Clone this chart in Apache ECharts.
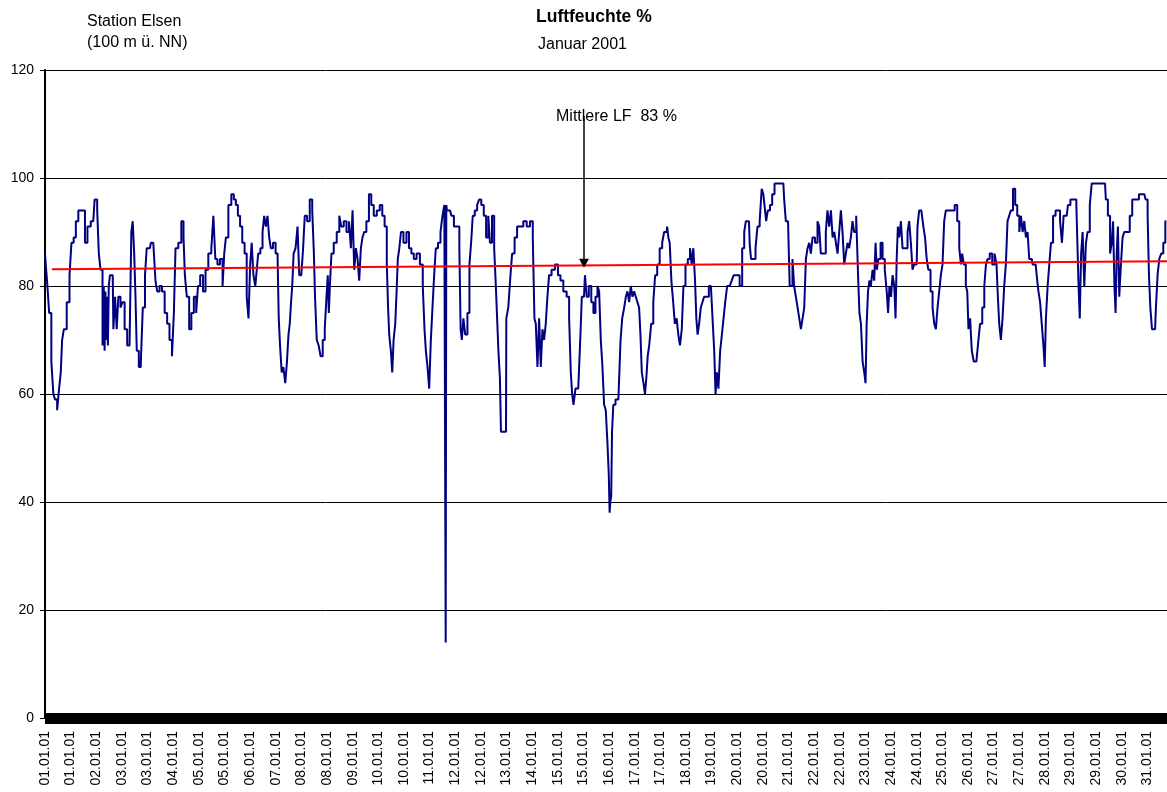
<!DOCTYPE html>
<html>
<head>
<meta charset="utf-8">
<title>Luftfeuchte Januar 2001</title>
<script src="https://cdn.jsdelivr.net/npm/echarts@6/dist/echarts.min.js"></script>
<style>
  html, body { margin: 0; padding: 0; background: #fff; }
  #chart { width: 1167px; height: 792px; }
</style>
</head>
<body>
<div id="chart"></div>
<script>
// x = Stunde seit 01.01.2001 00:00, y = rel. Luftfeuchte in %
const rhData = [
  [0, 86], [1, 84], [2.2, 80], [3.3, 75], [5.1, 66], [6, 60], [7.3, 59], [8.8, 57], [9.9, 61], [11, 64],
  [11.7, 70], [13.3, 72], [15.5, 77], [17, 82], [18.1, 88], [19.9, 89], [21, 92], [23.2, 94], [25.4, 94], [27.6, 88],
  [28.7, 91], [32, 92], [33.8, 96], [35.4, 94], [36, 86], [37.6, 83], [38.7, 69], [39.2, 80], [39.8, 68], [40.3, 79],
  [40.9, 70], [41.4, 78], [42, 69], [42.6, 80], [43.5, 82], [44.9, 82], [45.8, 72], [47.1, 78], [48, 72], [49.3, 78],
  [50.8, 76], [51.9, 77], [53.7, 72], [55.3, 69], [56.8, 69], [57.7, 90], [58.6, 92], [59.7, 86], [60.3, 78], [61.4, 68],
  [63, 65], [64.1, 66], [65.6, 76], [67, 82], [67.9, 87], [69.6, 87], [70.7, 88], [72.9, 88], [73.6, 81], [75.2, 79],
  [76.7, 80], [78.5, 79], [80.2, 75], [81.8, 73], [83.3, 70], [85.1, 67], [85.8, 75], [87.3, 87], [89.5, 88], [91.3, 92],
  [92.4, 89], [93.1, 82], [95, 78], [96.2, 72], [97.9, 75], [99.5, 78], [101, 75], [101.9, 80], [103.9, 82], [105.7, 79],
  [107.2, 83], [109.4, 86], [111.2, 87], [112.1, 93], [113.8, 85], [114.9, 84], [117.2, 85], [118.3, 80], [119.4, 86], [120.5, 89],
  [122.7, 95], [124.4, 97], [126, 96], [127.1, 95], [128.7, 93], [130, 91], [131.6, 88], [133.1, 86], [134.4, 78], [135.5, 74],
  [136.6, 84], [137.5, 88], [138.9, 82], [140, 80], [140.8, 83], [141.9, 86], [143.7, 87], [144.8, 90], [145.9, 93], [147, 91],
  [148.1, 93], [149.2, 89], [150.3, 87], [152.1, 88], [153.7, 86], [154.8, 85], [155.2, 74], [156.5, 69], [157.4, 64], [158.7, 65],
  [159.9, 62], [161, 66], [161.9, 71], [162.7, 73], [163.6, 77], [164.3, 80], [165.4, 86], [166.9, 87], [168, 91], [169.2, 82],
  [170.7, 82], [171.6, 87], [172.9, 93], [174.7, 92], [176.4, 96], [178, 94], [178.6, 86], [179.5, 78], [180.9, 70], [182, 69],
  [183.5, 67], [184.8, 70], [186.2, 72], [187.1, 78], [187.9, 82], [188.5, 75], [189.3, 80], [190.6, 86], [192.3, 88], [194.6, 90],
  [195.7, 93], [197.2, 91], [199, 92], [200.8, 90], [202.3, 92], [203.4, 87], [204.5, 94], [205.6, 83], [206.7, 87], [207.8, 85],
  [208.9, 81], [210, 87], [211.1, 89], [212.2, 90], [214, 92], [215.6, 97], [217.1, 95], [218.9, 93], [221.1, 94], [222.9, 95],
  [224.4, 93], [226, 91], [227.3, 84], [227.7, 76], [228.8, 71], [229.9, 68], [230.6, 64], [231.7, 70], [232.8, 73], [233.5, 79],
  [234.4, 85], [235.5, 87], [236.6, 90], [238.8, 88], [240.6, 90], [242.1, 87], [243.8, 86], [245.3, 85], [247.5, 86], [249.7, 84],
  [251.3, 80], [252, 72], [253.1, 68], [254.2, 65], [255.3, 61], [256.4, 70], [257.5, 76], [258.6, 82], [259.7, 87], [261.5, 88],
  [263, 90], [264.1, 93], [265.5, 95], [265.9, 14], [266.3, 95], [266.8, 94], [268.6, 94], [270.4, 93], [271.9, 91], [274.2, 91],
  [275.3, 87], [275.9, 72], [276.9, 70], [278, 74], [279.3, 71], [280.9, 75], [282, 84], [283.1, 88], [284.2, 93], [285.8, 94],
  [287.3, 95], [288.4, 96], [290.2, 95], [291.7, 93], [293.3, 89], [294.6, 93], [295.5, 88], [297.3, 93], [298.4, 87], [299.5, 80],
  [300.1, 74], [301.2, 68], [302.1, 63], [302.6, 53], [305.7, 53], [306.1, 74], [308.3, 76], [309, 82], [310.5, 86], [312.3, 89],
  [313.8, 91], [316, 91], [318.3, 92], [320.5, 91], [322.7, 92], [324.2, 89], [324.9, 74], [326, 73], [327.1, 65], [328.2, 74],
  [329.3, 65], [330.4, 72], [331.5, 70], [332.6, 73], [333.7, 78], [334.8, 82], [337, 83], [339.3, 84], [341, 82], [342.6, 81],
  [344.8, 79], [347, 78], [348.1, 74], [349.2, 64], [349.9, 60], [351, 58], [352.5, 61], [354.7, 61], [355.4, 71], [356.5, 78],
  [357.4, 78], [358.7, 82], [359.8, 78], [361.4, 80], [363.1, 77], [364.2, 75], [365.8, 78], [366.9, 80], [368, 79], [369.1, 70],
  [370.2, 65], [371.3, 58], [372.4, 57], [373.5, 51], [374.2, 45], [374.6, 38], [375.1, 40], [375.8, 41], [376.2, 53], [377.5, 58],
  [379.1, 59], [381.3, 59], [382, 70], [383.5, 74], [384.6, 76], [385.7, 78], [386.8, 79], [387.9, 77], [389, 80], [390.1, 78],
  [391.2, 79], [392.3, 78], [393.4, 77], [394.5, 76], [395.2, 71], [396.3, 64], [397.4, 62], [398.3, 60], [399.2, 63], [400.1, 67],
  [401.2, 69], [402.7, 73], [404, 77], [405.2, 82], [406.7, 84], [408.5, 87], [410, 88], [411.1, 90], [412.2, 90], [412.9, 91],
  [413.8, 89], [414.7, 88], [416, 81], [417.1, 77], [418.2, 73], [419.5, 74], [420.4, 71], [421.7, 69], [422.8, 72], [423.9, 80],
  [425.5, 84], [427, 85], [428.4, 87], [429.2, 84], [430.6, 87], [431.5, 81], [432.3, 74], [433.2, 71], [434.3, 73], [435.4, 76],
  [436.5, 77], [437.6, 78], [439.4, 78], [441, 80], [442.1, 80], [443.2, 74], [444.3, 68], [445, 60], [446, 64], [447.1, 61],
  [448.3, 68], [449.4, 71], [450.5, 74], [451.6, 77], [453.1, 80], [454.9, 80], [455.8, 81], [457.5, 82], [459.7, 82], [461.5, 80],
  [463.1, 87], [464.2, 90], [465.3, 92], [466.8, 92], [467.7, 88], [468.6, 85], [470.4, 85], [471.9, 87], [473, 91], [474.8, 92],
  [475.7, 98], [477, 97], [477.9, 94], [478.5, 92], [480.1, 94], [481.4, 95], [483, 97], [484.5, 99], [487.4, 99], [489.6, 99],
  [490.7, 96], [491.8, 92], [493.6, 92], [494, 80], [495.1, 80], [496.2, 85], [497.3, 80], [498.5, 78], [499.6, 76], [500.7, 74],
  [501.8, 72], [502.9, 74], [504, 76], [505.1, 85], [506.2, 87], [507.3, 88], [508.4, 86], [509.5, 89], [511.7, 88], [512.8, 92],
  [513.9, 91], [515, 86], [517.2, 86], [518.3, 90], [519.4, 94], [520.6, 91], [521.7, 94], [522.8, 89], [523.9, 90], [525, 88],
  [526.1, 86], [527.2, 90], [528.3, 94], [529.4, 90], [530.5, 84], [531.6, 86], [532.7, 88], [533.8, 87], [534.9, 89], [536, 92],
  [537.1, 90], [538.7, 93], [539.6, 82], [540.5, 75], [541.6, 73], [542.7, 66], [543.8, 64], [544.4, 62], [545.3, 73], [546.2, 79],
  [547.1, 81], [548.2, 80], [549.3, 83], [550.4, 81], [551.1, 88], [552, 83], [553.3, 85], [554.8, 88], [556, 85], [557.7, 83],
  [558.6, 79], [559.5, 75], [560.4, 80], [561.5, 78], [562.6, 82], [563.7, 80], [564.3, 74], [565.2, 85], [565.9, 91], [567, 89],
  [568.1, 92], [569.2, 87], [571.4, 87], [572.5, 90], [573.6, 92], [574.7, 88], [575.8, 83], [576.9, 84], [578, 84], [579.1, 91],
  [580.2, 94], [582, 94], [582.9, 91], [584.2, 89], [585.1, 85], [586.4, 83], [588, 79], [589.1, 76], [590.2, 73], [591.3, 72],
  [592.4, 76], [593.5, 79], [594.6, 82], [595.7, 84], [596.8, 92], [597.9, 94], [600.1, 94], [602.3, 94], [604.1, 95], [605.7, 92],
  [606.8, 87], [607.9, 84], [608.5, 86], [610, 84], [611.2, 80], [611.9, 79], [612.8, 72], [614.1, 74], [615, 68], [616.7, 66],
  [618.5, 66], [619.4, 70], [620.7, 73], [622.3, 76], [623.4, 80], [624.5, 84], [625.6, 85], [627.3, 86], [628.9, 84], [630.4, 86],
  [631.5, 84], [632.2, 78], [633.3, 73], [634.4, 70], [635.5, 74], [636.6, 80], [637.7, 84], [638.8, 92], [639.9, 93], [641, 94],
  [642.8, 98], [643.9, 95], [645.5, 93], [646.6, 90], [647.7, 93], [648.8, 90], [649.9, 92], [651, 89], [652.1, 90], [653.2, 85],
  [654.3, 85], [655.4, 84], [656.9, 84], [658.3, 82], [659.2, 79], [660.5, 77], [661.4, 73], [662.7, 69], [663.1, 65], [664.3, 74],
  [665.4, 80], [666.5, 84], [667.6, 88], [669.3, 93], [670.9, 94], [672.4, 94], [673.8, 92], [674.9, 88], [676, 93], [677.5, 93],
  [679.1, 95], [680.8, 96], [683, 96], [684.8, 95], [685.7, 81], [686.6, 74], [687.5, 86], [688.6, 90], [689.7, 80], [690.8, 88],
  [691.9, 90], [693.7, 95], [694.5, 99], [697.4, 99], [700.7, 99], [702.9, 99], [704, 96], [705.6, 93], [706.9, 86], [707.8, 88],
  [708.7, 92], [709.6, 80], [710.2, 75], [711.1, 86], [711.8, 91], [712.9, 78], [714, 84], [715.1, 89], [716.2, 90], [718.4, 90],
  [720.2, 93], [721.7, 96], [724, 96], [726.8, 97], [729, 97], [730.6, 96], [731.7, 93], [732.4, 82], [733.5, 76], [734.6, 72],
  [736.1, 72], [737.2, 76], [738.3, 82], [739.4, 85], [740.9, 86], [742.2, 88], [743.6, 92]
]

// lineare Trendlinie (Mittelwert)
const trendData = [[4.5, 83.1], [744, 84.6]]

// Pfeil zur Beschriftung: [Stunde, y oben, y Spitze]
const meanArrow = [357.4, 111.5, 84.2]

// Achsbeschriftung, eine alle 17 Stunden
const tickLabels = [
  '01.01.01', '01.01.01', '02.01.01', '03.01.01', '03.01.01', '04.01.01', '05.01.01', '05.01.01', '06.01.01', '07.01.01',
  '08.01.01', '08.01.01', '09.01.01', '10.01.01', '10.01.01', '11.01.01', '12.01.01', '12.01.01', '13.01.01', '14.01.01',
  '15.01.01', '15.01.01', '16.01.01', '17.01.01', '17.01.01', '18.01.01', '19.01.01', '20.01.01', '20.01.01', '21.01.01',
  '22.01.01', '22.01.01', '23.01.01', '24.01.01', '24.01.01', '25.01.01', '26.01.01', '27.01.01', '27.01.01', '28.01.01',
  '29.01.01', '29.01.01', '30.01.01', '31.01.01'
]
const labelStep = 17
const yTicks = [0, 20, 40, 60, 80, 100, 120]

const font = 'Liberation Sans, Arial, sans-serif'
const txt = { fontSize: 16, fontWeight: 'normal', lineHeight: 16, color: '#000' }
const myChart = echarts.init(document.getElementById('chart'))
myChart.setOption({
  animation: false,
  backgroundColor: '#fff',
  textStyle: { fontFamily: font, color: '#000' },
  title: [
    { text: 'Station Elsen', left: 82, top: 9, textStyle: txt },
    { text: '(100 m ü. NN)', left: 82, top: 30, textStyle: txt },
    { text: 'Luftfeuchte %', left: 531, top: 3, textStyle: Object.assign({}, txt, { fontWeight: 'bold', fontSize: 17.5, lineHeight: 18 }) },
    { text: 'Januar 2001', left: 533, top: 32, textStyle: txt },
    { text: 'Mittlere LF  83 %', left: 551, top: 104, textStyle: txt }
  ],
  grid: { left: 45, right: 0, top: 70, bottom: 74, containLabel: false },
  xAxis: {
    type: 'value',
    min: 0,
    max: 744,
    interval: labelStep,
    splitLine: { show: false },
    axisTick: { show: false },
    axisLine: { show: true, symbol: 'none', lineStyle: { color: '#000', width: 11, cap: 'butt' } },
    axisLabel: {
      rotate: 90,
      margin: 13,
      fontSize: 14,
      color: '#000',
      fontFamily: font,
      formatter: function(v) {
        return v % labelStep === 0 ? (tickLabels[v / labelStep] || '') : ''
      }
    }
  },
  yAxis: {
    type: 'value',
    min: yTicks[0],
    max: yTicks[yTicks.length - 1],
    interval: 20,
    axisLine: { show: true, lineStyle: { color: '#000', width: 2 } },
    axisTick: { show: true, length: 5, lineStyle: { color: '#000', width: 1 } },
    axisLabel: { fontSize: 14, color: '#000', margin: 11, fontFamily: font },
    splitLine: { show: true, lineStyle: { color: '#000', width: 1 } }
  },
  series: [
    {
      name: 'Luftfeuchte',
      type: 'line',
      data: rhData,
      step: 'middle',
      showSymbol: false,
      symbol: 'none',
      lineStyle: { color: '#000080', width: 2 },
      z: 2
    },
    {
      name: 'Trend',
      type: 'line',
      data: trendData,
      showSymbol: false,
      symbol: 'none',
      lineStyle: { color: '#ff0000', width: 2 },
      z: 3,
      markLine: {
        silent: true,
        symbol: ['none', 'triangle'],
        symbolSize: [10, 9],
        label: { show: false },
        lineStyle: { color: '#000', width: 1.5, type: 'solid' },
        data: [[{ coord: [meanArrow[0], meanArrow[1]] }, { coord: [meanArrow[0], meanArrow[2]] }]]
      }
    }
  ]
})
window.addEventListener('resize', function() {
  myChart.resize()
})
</script>
</body>
</html>
